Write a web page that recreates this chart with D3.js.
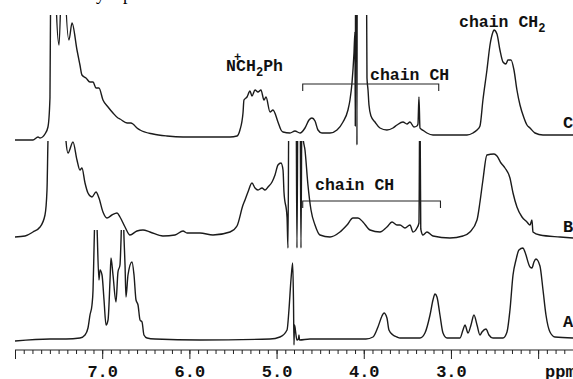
<!DOCTYPE html>
<html>
  <head>
    <meta charset="UTF-8">
    <title>1H NMR spectra A, B, C</title>
    <style>
      body { margin: 0; background: #fff; }
      svg { display: block; }
      .trace { fill: none; stroke: #1b1b1b; stroke-width: 1.4; stroke-linejoin: round; }
      .mono { font-family: "Liberation Mono", "Courier New", monospace; font-weight: bold; fill: #111; }
    </style>
  </head>
  <body>

    <svg></svg>

    <script src="https://d3js.org/d3.v7.min.js"></script>
    <script>

// spectra as [ppm, intensity above own baseline]
var specC = [
  [8.000,-2],[7.794,-2],[7.736,1],[7.713,0],[7.656,4],[7.622,11],[7.599,40],[7.587,200],
  [7.564,220],[7.541,180],[7.530,140],[7.495,93],[7.461,180],[7.438,200],[7.427,160],
  [7.381,98],[7.346,115],[7.289,88],[7.255,73],[7.232,63],[7.186,60],[7.140,56],[7.105,56],
  [7.071,50],[7.037,50],[6.991,38],[6.933,31],[6.876,25],[6.819,20],[6.796,19],[6.715,15],
  [6.670,15],[6.647,14],[6.601,10],[6.566,8],[6.417,4],[6.257,2],[6.073,1],[5.878,1],
  [5.729,1],[5.534,1],[5.454,2],[5.420,8],[5.385,25],[5.374,38],[5.339,41],[5.305,47],
  [5.282,42],[5.247,48],[5.213,46],[5.179,48],[5.144,38],[5.121,41],[5.075,26],[5.041,28],
  [4.984,16],[4.949,8],[4.926,6],[4.846,5],[4.789,7],[4.731,5],[4.674,10],[4.628,18],
  [4.594,20],[4.559,17],[4.525,8],[4.479,5],[4.387,5],[4.307,8],[4.238,16],[4.181,28],
  [4.158,38],[4.135,55],[4.112,85],[4.101,106],[4.097,12],[4.093,200],[4.082,250],
  [4.078,-7],[4.074,250],[3.974,250],[3.963,60],[3.951,48],[3.940,33],[3.917,22],[3.871,16],
  [3.814,10],[3.734,8],[3.665,10],[3.619,13],[3.550,16],[3.504,14],[3.470,16],[3.424,11],
  [3.390,12],[3.378,14],[3.367,41],[3.355,10],[3.344,9],[3.309,7],[3.275,5],[3.206,3],
  [2.816,3],[2.747,5],[2.701,8],[2.667,12],[2.633,38],[2.587,68],[2.552,93],[2.518,106],
  [2.506,108],[2.472,104],[2.438,88],[2.403,76],[2.369,74],[2.346,78],[2.311,78],[2.277,68],
  [2.243,48],[2.208,33],[2.162,20],[2.128,13],[2.093,10],[2.036,5],[1.944,3],[1.600,3]
];

var specB = [
  [8.000,0],[7.885,1],[7.794,5],[7.713,10],[7.656,22],[7.633,47],[7.622,96],[7.610,130],
  [7.530,140],[7.427,130],[7.415,96],[7.392,84],[7.335,95],[7.289,77],[7.255,67],[7.232,69],
  [7.197,54],[7.163,44],[7.117,40],[7.071,45],[7.037,39],[6.991,25],[6.945,19],[6.888,22],
  [6.830,24],[6.796,20],[6.738,10],[6.681,2],[6.601,6],[6.532,7],[6.452,5],[6.303,1],
  [6.165,2],[6.073,6],[6.027,4],[5.878,4],[5.729,2],[5.534,5],[5.454,11],[5.385,32],
  [5.362,37],[5.328,45],[5.282,54],[5.247,49],[5.213,47],[5.167,49],[5.133,47],[5.098,50],
  [5.052,55],[5.018,62],[4.984,72],[4.949,74],[4.926,67],[4.915,45],[4.880,20],[4.869,-11],
  [4.858,150],[4.777,150],[4.766,-11],[4.754,150],[4.731,150],[4.720,-11],[4.708,150],
  [4.697,100],[4.674,87],[4.640,52],[4.605,27],[4.559,12],[4.502,2],[4.387,0],[4.273,5],
  [4.192,12],[4.124,19],[4.066,19],[4.009,15],[3.928,7],[3.814,5],[3.734,10],[3.676,15],
  [3.619,12],[3.584,12],[3.527,9],[3.470,12],[3.435,5],[3.390,9],[3.367,14],[3.356,150],
  [3.346,8],[3.321,2],[3.275,5],[3.206,1],[3.011,-1],[2.862,1],[2.782,5],
  [2.701,17],[2.667,35],[2.633,57],[2.587,82],[2.506,83],[2.472,81],[2.426,74],[2.380,69],
  [2.323,59],[2.288,44],[2.243,30],[2.185,20],[2.128,15],[2.093,12],[2.071,17],[2.059,5],
  [1.979,2],[1.749,0],[1.600,-1]
];

var specA = [
  [8.000,-1],[7.599,1],[7.415,1],[7.255,2],[7.197,5],[7.163,12],[7.140,25],[7.117,35],
  [7.105,50],[7.094,90],[7.082,130],[7.071,140],[7.060,115],[7.037,60],[7.025,70],[7.002,65],
  [6.979,40],[6.956,15],[6.933,20],[6.910,60],[6.899,82],[6.876,65],[6.842,38],[6.819,68],
  [6.796,75],[6.784,100],[6.773,130],[6.761,130],[6.749,100],[6.738,75],[6.727,43],[6.704,65],
  [6.658,78],[6.635,65],[6.612,40],[6.589,35],[6.566,20],[6.543,18],[6.521,5],[6.486,2],
  [6.394,1],[5.878,0],[5.075,1],[4.961,3],[4.880,10],[4.858,30],[4.835,60],[4.815,77],
  [4.806,40],[4.800,-5],[4.795,15],[4.789,13],[4.777,5],[4.766,0],[4.749,1],[4.743,5],
  [4.737,0],[4.617,1],[3.975,1],[3.894,3],[3.837,13],[3.791,24],[3.768,27],[3.734,22],
  [3.711,10],[3.665,5],[3.619,3],[3.584,2],[3.355,2],[3.298,7],[3.240,25],[3.206,40],
  [3.183,46],[3.160,43],[3.126,25],[3.091,7],[3.045,2],[2.896,2],[2.862,10],[2.839,15],
  [2.804,7],[2.770,15],[2.736,25],[2.701,15],[2.667,5],[2.644,8],[2.598,11],[2.564,5],
  [2.518,2],[2.403,2],[2.357,8],[2.323,30],[2.288,65],[2.254,80],[2.220,90],[2.174,92],
  [2.151,88],[2.093,73],[2.071,72],[2.048,78],[2.025,81],[1.979,74],[1.944,50],[1.910,25],
  [1.864,8],[1.807,3],[1.600,2]
];

var traceNames = ["C", "B", "A"];
var brackets = [
  { trace: "C", label: "chain CH", from: 4.70, to: 3.14 },
  { trace: "B", label: "chain CH", from: 4.70, to: 3.12 }
];
var majorTicks = [8, 7, 6, 5, 4, 3, 2];
var tickLabels = ["", "7.0", "6.0", "5.0", "4.0", "3.0", ""];

var config = {
  width: 573,
  height: 379,
  axisY: 350,
  // baseline and top clip of each trace, in px
  layout: {
    C: { base: 138, clip: 15, labelY: 128, bracketY: 84, labelX: 370, labelDy: -4 },
    B: { base: 237, clip: 141, labelY: 232, bracketY: 201, labelX: 315, labelDy: -11 },
    A: { base: 340, clip: 230, labelY: 327 }
  }
};

var svg = d3.select("svg")
  .attr("width", config.width)
  .attr("height", config.height);

var x = d3.scaleLinear().domain([8.0, 1.6]).range([15, 573]);
var y = d3.scaleLinear().domain([0, 100]).range([0, -100]);

var specs = { A: specA, B: specB, C: specC };

var defs = svg.append("defs");

traceNames.forEach(function(name) {
  var l = config.layout[name];
  defs.append("clipPath").attr("id", "clip" + name)
    .append("rect")
      .attr("x", 0).attr("y", l.clip)
      .attr("width", config.width).attr("height", config.height - l.clip);

  var line = d3.line()
    .x(function(d) { return x(d[0]); })
    .y(function(d) { return l.base + y(d[1]); })
    .curve(d3.curveMonotoneX);

  svg.append("path")
    .attr("class", "trace")
    .attr("clip-path", "url(#clip" + name + ")")
    .attr("d", line(specs[name]));

  svg.append("text")
    .attr("class", "mono")
    .attr("x", 563)
    .attr("y", l.labelY)
    .attr("font-size", 17)
    .text(name);
});

// chain CH brackets
brackets.forEach(function(b) {
  var l = config.layout[b.trace];
  var g = svg.append("g").attr("stroke", "#222").attr("stroke-width", 1.1).attr("fill", "none");
  g.append("path")
    .attr("d", "M" + x(b.from) + "," + (l.bracketY + 7) + "V" + l.bracketY +
      "H" + x(b.to) + "V" + (l.bracketY + 7));
  svg.append("text")
    .attr("class", "mono")
    .attr("x", l.labelX)
    .attr("y", l.bracketY + l.labelDy)
    .attr("font-size", 16.5)
    .text(b.label);
});

// peak labels
var t1 = svg.append("text").attr("class", "mono").attr("font-size", 16.5)
  .attr("x", 459).attr("y", 27);
t1.append("tspan").text("chain CH");
t1.append("tspan").attr("dy", 5).attr("font-size", 12).text("2");

var t2 = svg.append("text").attr("class", "mono").attr("font-size", 16.5)
  .attr("x", 226).attr("y", 71);
t2.append("tspan").text("N");
t2.append("tspan").attr("dx", -2).attr("dy", -10).attr("font-size", 12).text("+");
t2.append("tspan").attr("dx", -5).attr("dy", 10).text("CH");
t2.append("tspan").attr("dy", 5).attr("font-size", 12).text("2");
t2.append("tspan").attr("dy", -5).text("Ph");

// cut-off caption above the figure
svg.append("text").attr("x", 96).attr("y", 0)
  .attr("font-family", "Liberation Serif").attr("font-size", 18).text("y");
svg.append("text").attr("x", 123).attr("y", 0)
  .attr("font-family", "Liberation Serif").attr("font-size", 18).text("p");

// ppm axis
var minor = d3.range(80, 15, -1).map(function(d) { return d / 10; });

var axis = svg.append("g")
  .attr("transform", "translate(0," + config.axisY + ")");

axis.append("g")
  .call(d3.axisBottom(x).tickValues(minor).tickSize(4).tickFormat(""))
  .call(function(g) { g.select(".domain").remove(); });

axis.append("g")
  .call(d3.axisBottom(x).tickValues(majorTicks).tickSize(9).tickPadding(6)
    .tickFormat(function(d, i) { return tickLabels[i]; }))
  .call(function(g) { g.select(".domain").remove(); })
  .call(function(g) {
    g.selectAll("text")
      .attr("font-family", "Liberation Mono, monospace")
      .attr("font-weight", "bold")
      .attr("font-size", 17)
      .attr("fill", "#111");
  });

axis.append("line")
  .attr("x1", x(8.0)).attr("x2", config.width)
  .attr("stroke", "#222").attr("stroke-width", 1.2);

axis.selectAll(".tick line").attr("stroke", "#222");

svg.append("text")
  .attr("class", "mono")
  .attr("x", 545).attr("y", 377)
  .attr("font-size", 17)
  .text("ppm");

    </script>
  </body>
</html>
